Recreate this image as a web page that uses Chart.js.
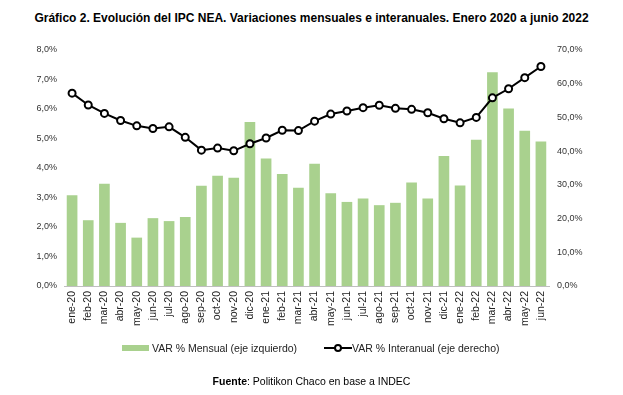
<!DOCTYPE html>
<html>
<head>
<meta charset="utf-8">
<script src="https://cdn.jsdelivr.net/npm/chart.js@4/dist/chart.umd.min.js"></script>
<style>
  html, body { margin: 0; padding: 0; background: #fff; }
  body { width: 623px; height: 395px; position: relative; overflow: hidden; font-family: "Liberation Sans", Arial, sans-serif; }
  #title { position: absolute; left: 0; width: 623px; top: 11px; text-align: center; font-weight: bold; font-size: 12px; color: #000; white-space: nowrap; }
  #wrap { position: absolute; left: 0; top: 0; width: 623px; height: 395px; }
  .leg { position: absolute; top: 341px; font-size: 10.5px; color: #222; white-space: nowrap; line-height: 14px; }
  .box { display: inline-block; width: 27px; height: 6px; background: #a9d18e; vertical-align: middle; margin-right: 3px; position: relative; top: -1px; }
  .lsym { display: inline-block; width: 28px; height: 10px; position: relative; vertical-align: middle; top: -1px; }
  .lsym .ln { position: absolute; left: 0; right: 0; top: 4px; height: 2px; background: #000; }
  .lsym .pt { position: absolute; left: 10px; top: 1px; width: 4px; height: 4px; border: 2px solid #000; border-radius: 50%; background: #fff; }
  #src { position: absolute; left: 0; width: 623px; top: 375px; text-align: center; font-size: 10.5px; color: #000; }
</style>
</head>
<body>
<div id="title">Gráfico 2. Evolución del IPC NEA. Variaciones mensuales e interanuales. Enero 2020 a junio 2022</div>
<div id="wrap"><canvas id="c" width="623" height="395"></canvas></div>
<div class="leg" style="left:122px;"><span class="box"></span>VAR % Mensual (eje izquierdo)</div>
<div class="leg" style="left:324px;"><span class="lsym"><span class="ln"></span><span class="pt"></span></span>VAR % Interanual (eje derecho)</div>
<div id="src"><b>Fuente</b>: Politikon Chaco en base a INDEC</div>
<script>
const categories = ["ene-20","feb-20","mar-20","abr-20","may-20","jun-20","jul-20","ago-20","sep-20","oct-20","nov-20","dic-20",
  "ene-21","feb-21","mar-21","abr-21","may-21","jun-21","jul-21","ago-21","sep-21","oct-21","nov-21","dic-21",
  "ene-22","feb-22","mar-22","abr-22","may-22","jun-22"];
const varMensual = [3.08,2.23,3.47,2.14,1.64,2.30,2.20,2.34,3.40,3.74,3.67,5.56,
  4.32,3.80,3.33,4.14,3.14,2.85,2.97,2.74,2.82,3.51,2.97,4.41,
  3.41,4.96,7.25,6.02,5.26,4.90];
const varInteranual = [57.2,53.7,51.2,49.1,47.5,46.7,47.2,44.1,40.3,40.9,40.1,42.2,
  43.9,46.2,46.1,48.9,51.0,51.9,52.9,53.6,52.7,52.4,51.4,49.6,
  48.4,50.0,55.8,58.5,61.8,65.1];
const leftTicks = {min: 0, max: 8, step: 1};
const rightTicks = {min: 0, max: 70, step: 10};

const fmt = v => v.toFixed(1).replace('.', ',') + '%';
const tickFont = {family: "Liberation Sans", size: 9};

new Chart(document.getElementById('c'), {
  data: {
    labels: categories,
    datasets: [
      {
        type: 'line', label: 'VAR % Interanual (eje derecho)', data: varInteranual, yAxisID: 'y1', order: 0,
        borderColor: '#000', borderWidth: 2, pointRadius: 3.5, pointBorderWidth: 2,
        pointBackgroundColor: '#fff', pointBorderColor: '#000', tension: 0
      },
      {
        type: 'bar', label: 'VAR % Mensual (eje izquierdo)', data: varMensual, yAxisID: 'y', order: 1,
        backgroundColor: '#a9d18e', categoryPercentage: 1, barPercentage: 0.66
      }
    ]
  },
  options: {
    responsive: false, animation: false,
    layout: {padding: {top: 50, left: 0, right: 0, bottom: 0}},
    plugins: {legend: {display: false}, tooltip: {enabled: false}, title: {display: false}},
    scales: {
      x: {
        grid: {display: false, drawTicks: false},
        border: {display: true, color: '#bfbfbf', width: 1},
        ticks: {font: {family: "Liberation Sans", size: 10.5}, color: '#222', minRotation: 90, maxRotation: 90, autoSkip: false, padding: 5},
        afterFit: s => { s.height = 109; }
      },
      y: {
        position: 'left', min: leftTicks.min, max: leftTicks.max,
        grid: {display: false, drawTicks: false}, border: {display: false},
        ticks: {stepSize: leftTicks.step, font: tickFont, color: '#333', padding: 7, callback: v => fmt(v)},
        afterFit: s => { s.width = 64; }
      },
      y1: {
        position: 'right', min: rightTicks.min, max: rightTicks.max,
        grid: {display: false, drawTicks: false}, border: {display: false},
        ticks: {stepSize: rightTicks.step, font: tickFont, color: '#333', padding: 8, callback: v => fmt(v)},
        afterFit: s => { s.width = 74; }
      }
    }
  }
});
</script>
</body>
</html>
